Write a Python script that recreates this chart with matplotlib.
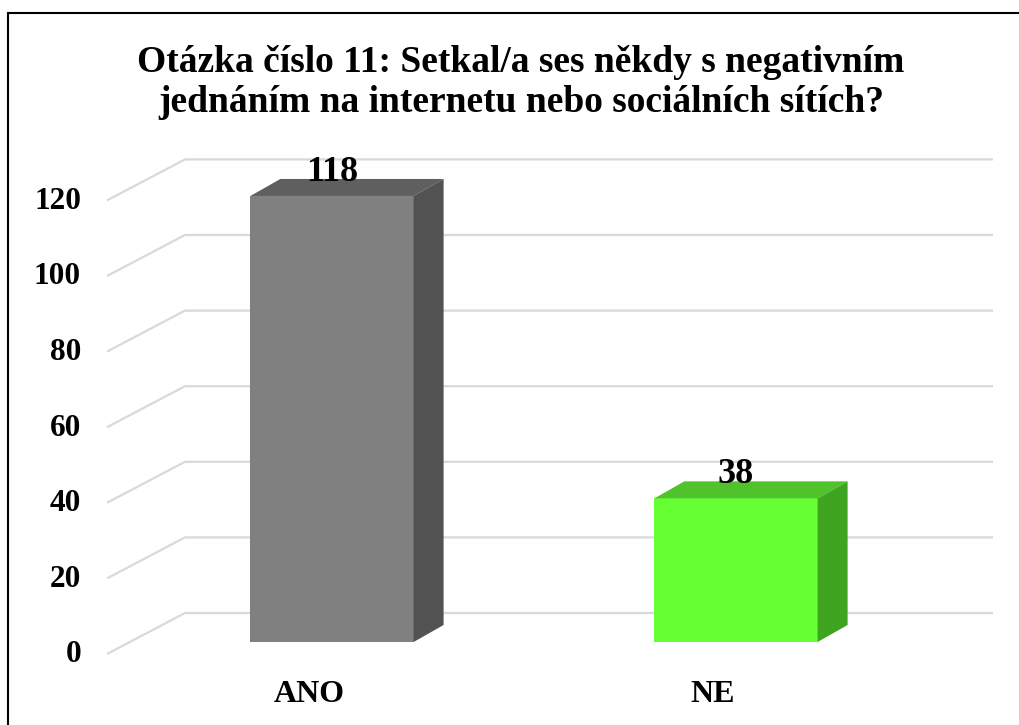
import matplotlib
matplotlib.use("Agg")
import matplotlib.pyplot as plt
from matplotlib.patches import Polygon, Rectangle
from matplotlib.transforms import offset_copy

# ---- data ----
categories = ["ANO", "NE"]
values = [118, 38]
yticks = [0, 20, 40, 60, 80, 100, 120]
title = "Otázka číslo 11: Setkal/a ses někdy s negativním\njednáním na internetu nebo sociálních sítích?"

# ---- style ----
front_colors = ["#808080", "#66ff33"]
top_colors = ["#5f5f5f", "#50c22b"]
side_colors = ["#525252", "#3fa41f"]
grid_color = "#d9d9d9"
FONT = "Liberation Serif"

W, H, DPI = 1019, 725, 100
fig = plt.figure(figsize=(W / DPI, H / DPI), dpi=DPI)
fig.patch.set_facecolor("white")

# axes = front plane of the bars
ax_left, ax_right = 130, 938
ax_bottom_img, ax_top_img = 642, 188.4
ax = fig.add_axes([ax_left / W, (H - ax_bottom_img) / H,
                   (ax_right - ax_left) / W, (ax_bottom_img - ax_top_img) / H])
ax.set_xlim(-0.5, 1.5)
ax.set_ylim(0, 120)
ax.axis("off")

# pixel -> data conversion
p0 = ax.transData.transform((0, 0))
px_x = ax.transData.transform((1, 0))[0] - p0[0]
px_y = ax.transData.transform((0, 1))[1] - p0[1]


def d(dx, dy):
    return dx / px_x, dy / px_y


FLOOR_FRONT = d(-23, -12)
BACK_WALL = d(55, 29)
BAR_DEPTH = d(30, 17)
bar_w = 0.404

xl, xr = ax.get_xlim()
# gridlines (left wall slant + back wall)
for v in yticks:
    xs = [xl + FLOOR_FRONT[0], xl + BACK_WALL[0], xr + BACK_WALL[0]]
    ys = [v + FLOOR_FRONT[1], v + BACK_WALL[1], v + BACK_WALL[1]]
    ax.plot(xs, ys, color=grid_color, lw=1.6, clip_on=False, zorder=1,
            solid_capstyle="butt")

# bars
xpos = list(range(len(categories)))
ax.bar(xpos, values, width=bar_w, color=front_colors, zorder=3, clip_on=False,
       edgecolor="none")
dx, dy = BAR_DEPTH
for i, v in enumerate(values):
    x0, x1 = xpos[i] - bar_w / 2, xpos[i] + bar_w / 2
    top = Polygon([(x0, v), (x1, v), (x1 + dx, v + dy), (x0 + dx, v + dy)],
                  closed=True, facecolor=top_colors[i], edgecolor="none",
                  zorder=3, clip_on=False)
    side = Polygon([(x1, 0), (x1, v), (x1 + dx, v + dy), (x1 + dx, dy)],
                   closed=True, facecolor=side_colors[i], edgecolor="none",
                   zorder=3, clip_on=False)
    ax.add_patch(top)
    ax.add_patch(side)
    lab_tr = offset_copy(ax.transData, fig=fig, x=0, y=15, units="dots")
    ax.text(xpos[i], v, str(v), transform=lab_tr, ha="center", va="baseline",
            fontsize=26, fontweight="bold", family=FONT, zorder=5)

# y tick labels
tick_tr = offset_copy(ax.transData, fig=fig, x=-49, y=-13, units="dots")
for v in yticks:
    ax.text(xl, v, str(v), transform=tick_tr, ha="right", va="center",
            fontsize=22.5, fontweight="bold", family=FONT)

# category labels
cat_tr = offset_copy(ax.transData, fig=fig, x=-23, y=-53, units="dots")
for i, c in enumerate(categories):
    ax.text(xpos[i], 0, c, transform=cat_tr, ha="center", va="center",
            fontsize=23, fontweight="bold", family=FONT)

# title
fig.text(521 / W, 1 - 82.5 / H, title, ha="center", va="center",
         multialignment="center", fontsize=27, fontweight="bold",
         family=FONT, linespacing=1.15)

# chart border
fig.add_artist(Rectangle((7.5 / W, -0.05), 1.1, (H - 12.5) / H + 0.05,
                         transform=fig.transFigure, fill=False,
                         edgecolor="black", lw=1.5))

fig.savefig("out.png", dpi=DPI)
